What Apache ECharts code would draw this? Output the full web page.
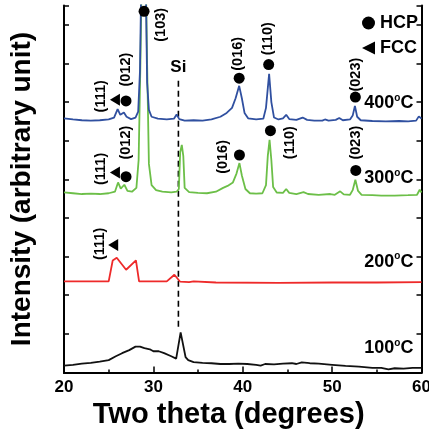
<!DOCTYPE html>
<html>
<head>
<meta charset="utf-8">
<script src="https://cdn.jsdelivr.net/npm/echarts@6.0.0/dist/echarts.min.js"></script>
<style>
  html, body { margin: 0; padding: 0; background: #fff; }
  #xrd { width: 429px; height: 431px; }
</style>
</head>
<body>
<div id="xrd"></div>
<script>
// 2theta / intensity traces (intensity in arbitrary, stacked units)
const theta100 = [20, 21, 22, 23, 24, 25, 25.8, 26.5, 27.3, 28, 28.5, 29, 29.6, 30, 30.6, 31.2, 32, 32.55, 33.05, 33.6, 33.9, 34.5, 35.5, 36.5, 37.5, 38.5, 39.5, 40.5, 41.5, 42, 42.5, 43.5, 44.5, 45.5, 46, 46.6, 47.5, 48.5, 50, 51.5, 53, 54.5, 55.5, 56.3, 57, 58, 59, 60];
const int100 = [0.18, 0.2, 0.23, 0.25, 0.28, 0.32, 0.42, 0.5, 0.58, 0.67, 0.67, 0.63, 0.6, 0.55, 0.55, 0.5, 0.42, 0.36, 1.04, 0.4, 0.32, 0.27, 0.25, 0.24, 0.22, 0.22, 0.23, 0.22, 0.2, 0.18, 0.22, 0.21, 0.23, 0.24, 0.22, 0.26, 0.24, 0.23, 0.2, 0.17, 0.15, 0.12, 0.12, 0.08, 0.11, 0.1, 0.12, 0.12];

const theta200 = [20, 25, 25.1, 25.45, 25.9, 26.95, 28.05, 28.4, 31.5, 32.35, 33, 34, 34.5, 37, 44, 50, 55, 60];
const int200 = [2.36, 2.36, 2.36, 2.9, 2.97, 2.66, 2.9, 2.36, 2.36, 2.53, 2.35, 2.34, 2.36, 2.33, 2.32, 2.33, 2.33, 2.34];

const theta300 = [20, 21, 22, 23, 24, 25, 25.7, 26.05, 26.35, 26.75, 27.1, 27.6, 28.1, 28.35, 28.55, 28.75, 28.9, 29.1, 29.3, 29.5, 29.8, 30.3, 31, 32, 32.6, 32.85, 33, 33.18, 33.35, 33.5, 34, 35, 36, 37, 37.8, 38.3, 38.9, 39.3, 39.63, 39.9, 40.3, 40.8, 41.5, 42.2, 42.6, 42.8, 43, 43.2, 43.4, 43.8, 44.5, 44.86, 45.2, 46, 46.8, 47.3, 48.5, 49.8, 50.3, 50.9, 51.3, 52, 52.3, 52.6, 52.9, 53.3, 54.5, 55.5, 57, 58.5, 59.5, 59.8, 60];
const int300 = [4.66, 4.64, 4.62, 4.63, 4.62, 4.64, 4.68, 4.92, 4.76, 4.86, 4.7, 4.68, 4.78, 5.5, 8, 11, 12, 11, 8, 5.4, 4.85, 4.72, 4.68, 4.66, 4.68, 4.75, 5.7, 5.89, 5.6, 4.78, 4.67, 4.65, 4.64, 4.68, 4.78, 4.83, 4.92, 5.15, 5.42, 5.1, 4.75, 4.64, 4.63, 4.64, 4.85, 5.6, 6.02, 5.5, 4.8, 4.66, 4.65, 4.75, 4.65, 4.62, 4.67, 4.62, 4.6, 4.62, 4.6, 4.69, 4.61, 4.6, 4.72, 4.99, 4.7, 4.6, 4.59, 4.58, 4.58, 4.59, 4.6, 4.73, 4.66];

const theta400 = [20, 21, 22, 23, 24, 25, 25.6, 26, 26.3, 26.7, 27, 27.5, 28, 28.3, 28.5, 28.7, 28.9, 29.1, 29.3, 29.5, 29.8, 30.5, 31.5, 32.3, 32.6, 32.9, 33.5, 34.5, 35.5, 36.5, 37.5, 38.2, 38.8, 39.2, 39.6, 39.9, 40.2, 40.6, 41.5, 42.3, 42.6, 42.95, 43.2, 43.5, 44, 44.5, 44.86, 45.2, 46, 46.7, 47.2, 48, 48.9, 49.2, 49.6, 50.4, 50.8, 51.2, 52, 52.3, 52.55, 52.8, 53.2, 54.5, 56, 57.5, 58.5, 59.4, 59.7, 60];
const int400 = [6.58, 6.55, 6.53, 6.52, 6.53, 6.55, 6.6, 6.82, 6.67, 6.73, 6.62, 6.56, 6.6, 6.75, 7.8, 11, 12, 11, 7.5, 6.8, 6.62, 6.57, 6.55, 6.57, 6.68, 6.56, 6.52, 6.53, 6.52, 6.55, 6.62, 6.72, 6.85, 7.1, 7.42, 7.1, 6.72, 6.58, 6.55, 6.57, 6.85, 7.73, 7, 6.6, 6.55, 6.58, 6.67, 6.56, 6.54, 6.6, 6.54, 6.52, 6.52, 6.55, 6.52, 6.54, 6.59, 6.53, 6.55, 6.65, 6.9, 6.62, 6.53, 6.51, 6.5, 6.51, 6.5, 6.52, 6.63, 6.57];

// phase markers
const hcpPoints = [[28.96, 9.35], [26.94, 7.03], [39.6, 7.62], [42.9, 7.97], [52.6, 7.13],
                   [26.94, 5.07], [39.63, 5.63], [43.1, 6.26], [52.65, 5.23]];
const fccPoints = [[25.7, 7.06], [25.7, 5.18], [25.5, 3.3]];

// Miller indices and where they sit
const hklNames = ['(111)', '(012)', '(103)', '(016)', '(110)', '(023)',
                  '(111)', '(012)', '(016)', '(110)', '(023)', '(111)'];
const hklPos = [[24.11, 7.15], [26.91, 7.84], [30.83, 9.0], [39.45, 8.25], [42.88, 8.64], [52.67, 7.71],
                [24.11, 5.27], [26.91, 5.95], [37.84, 5.58], [45.31, 5.95], [52.67, 5.95], [24.03, 3.33]];

const temps = ['400', '300', '200', '100'];
const tempPos = [[59.1, 6.98], [59.1, 5.03], [59.1, 2.87], [59.1, 0.63]];

// Si reference line
const siLine = [[32.8, 7.55], [32.8, 1.1]];

const FONT = 'Liberation Sans, Arial, Helvetica, sans-serif';
const zip = (xs, ys) => xs.map((x, i) => [x, ys[i]]);
const triangleLeft = 'path://M0,5 L10,0 L10,10 Z';

const myChart = echarts.init(document.getElementById('xrd'));

function trace(name, xs, ys, color) {
  return {
    name: name,
    type: 'line',
    data: zip(xs, ys),
    showSymbol: false,
    symbol: 'none',
    lineStyle: { color: color, width: 1.8 },
    z: 3
  };
}

const axisText = { fontFamily: FONT, fontWeight: 'bold', color: '#000' };

myChart.setOption({
  animation: false,
  backgroundColor: '#fff',
  grid: { left: 64, right: 7.5, top: 5.5, bottom: 58.5, outerBoundsMode: 'none' },
  legend: {
    data: ['HCP', 'FCC'],
    orient: 'vertical',
    left: 362,
    top: 14,
    padding: 0,
    itemWidth: 13,
    itemHeight: 13,
    itemGap: 7,
    textStyle: { fontFamily: FONT, fontWeight: 'bold', fontSize: 18, color: '#000' },
    selectedMode: false
  },
  xAxis: [
    {
      type: 'value',
      min: 20,
      max: 60,
      interval: 10,
      name: 'Two theta (degrees)',
      nameLocation: 'middle',
      nameGap: 21,
      nameTextStyle: Object.assign({ fontSize: 29, padding: [0, 28, 0, 0] }, axisText),
      axisLine: { lineStyle: { color: '#000', width: 2 } },
      axisTick: { inside: true, length: 6, lineStyle: { color: '#000', width: 1.5 } },
      minorTick: { show: true, splitNumber: 2, length: 3, lineStyle: { color: '#000', width: 1.5 } },
      axisLabel: Object.assign({ fontSize: 17, margin: 6 }, axisText),
      splitLine: { show: false }
    },
    {
      type: 'value',
      position: 'top',
      min: 20,
      max: 60,
      axisLine: { show: true, lineStyle: { color: '#000', width: 2 } },
      axisTick: { show: false },
      axisLabel: { show: false },
      splitLine: { show: false }
    }
  ],
  yAxis: [
    {
      type: 'value',
      min: 0,
      max: 9.5,
      interval: 1,
      name: 'Intensity (arbitrary unit)',
      nameLocation: 'middle',
      nameGap: 28,
      nameTextStyle: Object.assign({ fontSize: 28 }, axisText),
      axisLine: { show: true, lineStyle: { color: '#000', width: 2 } },
      axisTick: { inside: true, length: 5, lineStyle: { color: '#000', width: 1.5 } },
      axisLabel: { show: false },
      splitLine: { show: false }
    },
    {
      type: 'value',
      position: 'right',
      min: 0,
      max: 9.5,
      interval: 1,
      axisLine: { show: true, lineStyle: { color: '#000', width: 2 } },
      axisTick: { inside: true, length: 5, lineStyle: { color: '#000', width: 1.5 } },
      axisLabel: { show: false },
      splitLine: { show: false }
    }
  ],
  series: [
    trace('100', theta100, int100, '#111111'),
    trace('200', theta200, int200, '#ee2a2a'),
    trace('300', theta300, int300, '#6cbf48'),
    trace('400', theta400, int400, '#3050a0'),
    {
      name: 'Si',
      type: 'line',
      data: siLine,
      symbol: 'none',
      lineStyle: { color: '#000', width: 1.6, type: [6, 4] },
      z: 2
    },
    {
      name: 'HCP',
      type: 'scatter',
      data: hcpPoints,
      symbol: 'circle',
      symbolSize: 11,
      itemStyle: { color: '#000', opacity: 1 },
      clip: false,
      z: 5
    },
    {
      name: 'FCC',
      type: 'scatter',
      data: fccPoints,
      symbol: triangleLeft,
      symbolSize: [10, 12],
      itemStyle: { color: '#000', opacity: 1 },
      clip: false,
      z: 5
    },
    {
      // Miller index labels
      type: 'scatter',
      symbolSize: 0,
      itemStyle: { opacity: 1 },
      data: hklNames.map((n, i) => ({ name: n, value: hklPos[i] })),
      label: {
        show: true,
        position: 'inside',
        rotate: 90,
        formatter: '{b}',
        fontFamily: FONT,
        fontWeight: 'bold',
        fontSize: 14.5,
        color: '#000'
      },
      silent: true,
      z: 6
    },
    {
      // Si label
      type: 'scatter',
      symbolSize: 0,
      itemStyle: { opacity: 1 },
      data: [{ name: 'Si', value: [32.8, 7.89] }],
      label: {
        show: true,
        position: 'inside',
        formatter: '{b}',
        fontFamily: FONT,
        fontWeight: 'bold',
        fontSize: 17,
        color: '#000'
      },
      silent: true,
      z: 6
    },
    {
      // temperature labels
      type: 'scatter',
      symbolSize: 0,
      itemStyle: { opacity: 1 },
      data: temps.map((t, i) => ({ name: t, value: tempPos[i] })),
      label: {
        show: true,
        position: 'left',
        distance: 0,
        formatter: p => '{n|' + p.name + '}{o|o}{n|C}',
        rich: {
          n: { fontFamily: FONT, fontWeight: 'bold', fontSize: 18, color: '#000', lineHeight: 20 },
          o: { fontFamily: FONT, fontWeight: 'bold', fontSize: 10, color: '#000', lineHeight: 20, verticalAlign: 'top' }
        }
      },
      silent: true,
      z: 6
    }
  ]
});

window.onresize = function () {
  myChart.resize();
};
</script>
</body>
</html>
